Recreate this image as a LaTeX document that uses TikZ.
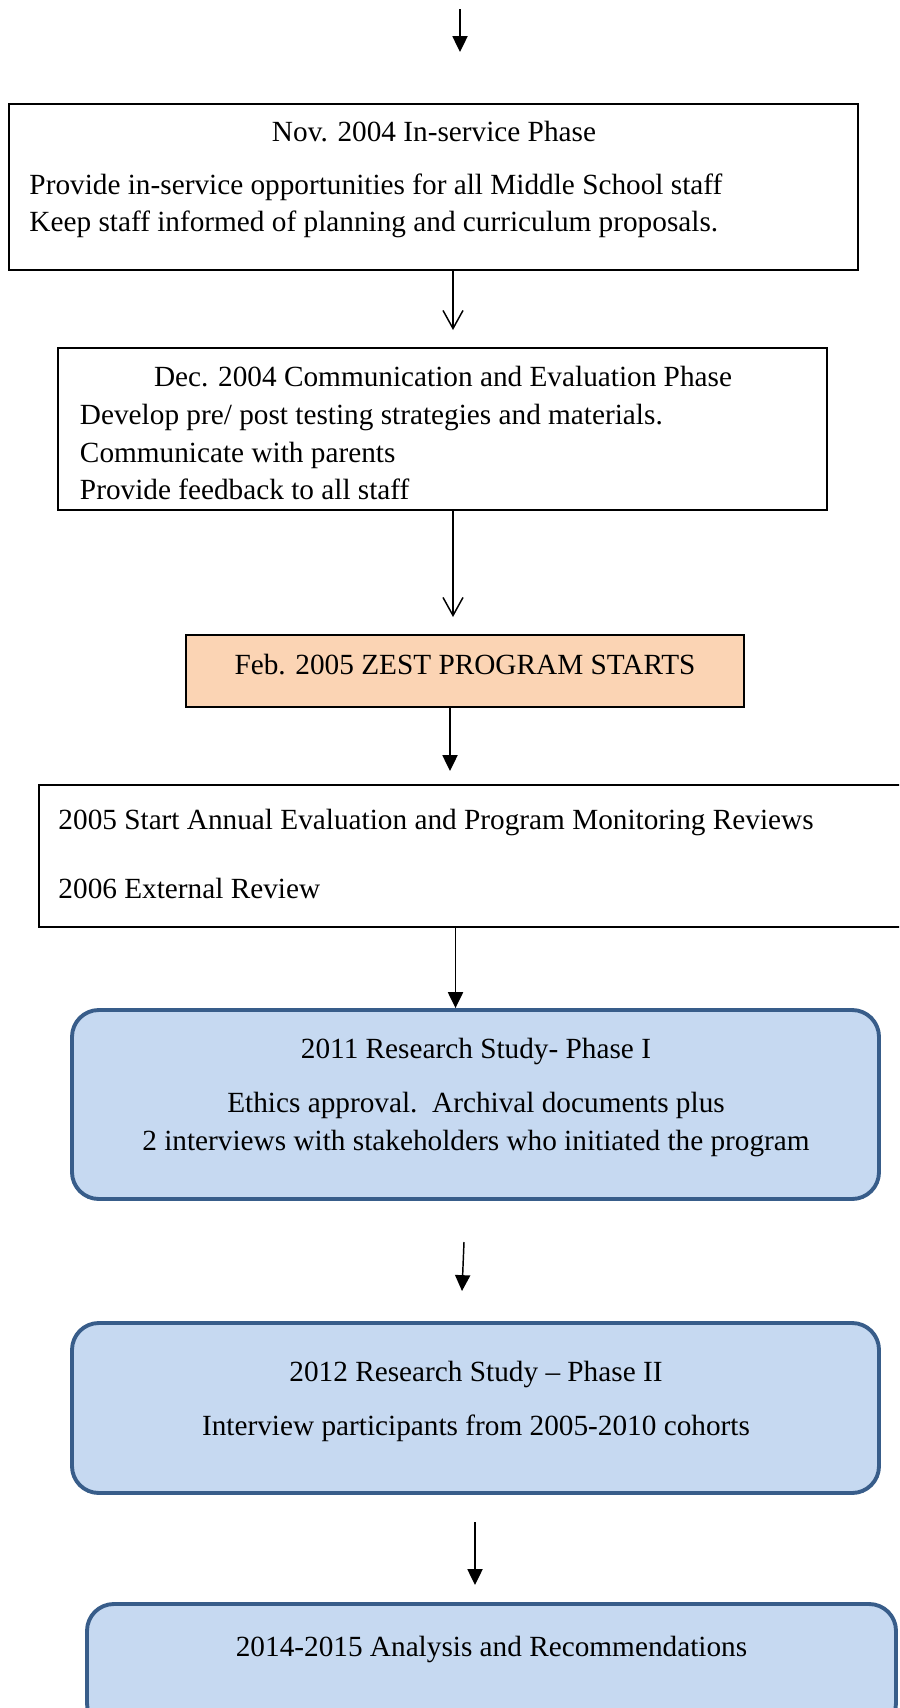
\documentclass[tikz,border=0pt]{standalone}
\usepackage{fontspec}
\setmainfont{Liberation Serif}
\usetikzlibrary{arrows.meta}
\definecolor{peach}{HTML}{FBD4B4}
\definecolor{paleblue}{HTML}{C6D9F1}
\definecolor{edgeblue}{HTML}{385D8A}
\newcommand{\px}{0.41pt}
\tikzset{phase/.style={draw,line width=0.8pt,inner sep=0pt}}
\tikzset{launch/.style={phase,fill=peach}}
\tikzset{study/.style={phase,draw=edgeblue,line width=1.6pt,fill=paleblue,rounded corners=11pt}}
\tikzset{heading/.style={inner sep=0pt,text height=0.9em,text depth=0.2em,font=\fontsize{12}{14}\selectfont}}
\tikzset{item/.style={heading,anchor=west}}
\tikzset{solidarrow/.style={-{Triangle[length=6.5pt,width=6.2pt]},line width=0.6pt}}
\tikzset{openarrow/.style={-{Straight Barb[length=7.4pt,width=8.2pt]},line width=0.6pt}}

\begin{document}
\begin{tikzpicture}[x=\px,y=-\px]
    \useasboundingbox (0,0) rectangle (899,1708);
    \clip (0,0) rectangle (899,1708);

    % in-service phase
    \node[phase,minimum width=849*\px,minimum height=166.5*\px] (inserv) at (433.5,187) {};
    \node[heading] (inservt) at (434,133) {Nov. 2004 In-service Phase};
    \node[item] (inserv1) at (29,186) {Provide in-service opportunities for all Middle School staff};
    \node[item] (inserv2) at (29,223) {Keep staff informed of planning and curriculum proposals.};

    % communication phase
    \node[phase,minimum width=769*\px,minimum height=162*\px] (comm) at (442.5,429) {};
    \node[heading] (commt) at (443,378) {Dec. 2004 Communication and Evaluation Phase};
    \foreach \h [count=\hi] in {Develop pre/ post testing strategies and materials.,
                                Communicate with parents,Provide feedback to all staff}{
        \node[item] (comm\hi) at (79.5,{416+37.5*(\hi-1)}) {\h};
    }

    % program start
    \node[launch,minimum width=558*\px,minimum height=72*\px] (zest) at (465,671) {};
    \node[heading] (zestt) at (465,666) {Feb. 2005 ZEST PROGRAM STARTS};

    % reviews
    \node[phase,minimum width=881*\px,minimum height=142*\px] (review) at (479.5,856) {};
    \node[item] (review1) at (58,821) {2005 Start Annual Evaluation and Program Monitoring Reviews};
    \node[item] (review2) at (58,890) {2006 External Review};

    % research phase I
    \node[study,minimum width=807*\px,minimum height=189*\px] (res1) at (475.5,1104.5) {};
    \node[heading] (res1t) at (476,1050) {2011 Research Study- Phase I};
    \node[heading] (res1a) at (476,1104) {Ethics approval.\ \ Archival documents plus};
    \node[heading] (res1b) at (476,1142) {2 interviews with stakeholders who initiated the program};

    % research phase II
    \node[study,minimum width=807*\px,minimum height=170*\px] (res2) at (475.5,1408) {};
    \node[heading] (res2t) at (476,1373) {2012 Research Study -- Phase II};
    \node[heading] (res2a) at (476,1427) {Interview participants from 2005-2010 cohorts};

    % analysis
    \node[study,minimum width=809*\px,minimum height=126*\px] (analysis) at (491.5,1667) {};
    \node[heading] (analysist) at (491.5,1648) {2014-2015 Analysis and Recommendations};

    % arrows
    \coordinate (a0) at (460,9);
    \coordinate (b0) at (460,52);
    \coordinate (a1) at (453,330);
    \coordinate (a2) at (453,617);
    \coordinate (a3) at (450,771);
    \coordinate (a4) at (455.5,0);
    \coordinate (a5) at (464,1242);
    \coordinate (b5) at (462,1291);
    \coordinate (a6) at (475,1522);
    \coordinate (b6) at (475,1585);

    \draw[solidarrow] (a0) -- (b0);
    \draw[openarrow] (inserv.south -| a1) -- (a1);
    \draw[openarrow] (comm.south -| a2) -- (a2);
    \draw[solidarrow] (zest.south -| a3) -- (a3);
    \draw[solidarrow] (review.south -| a4) -- (res1.north -| a4);
    \draw[solidarrow] (a5) -- (b5);
    \draw[solidarrow] (a6) -- (b6);
\end{tikzpicture}
\end{document}
